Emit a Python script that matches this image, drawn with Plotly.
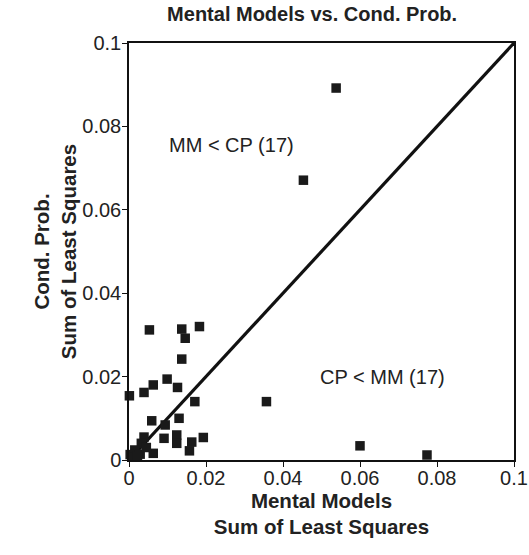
import plotly.graph_objects as go

mental_models = [0.0538, 0.0453, 0.0357, 0.0600, 0.0774, 0.0053, 0.0137, 0.0183,
                 0.0146, 0.0137, 0.0099, 0.0063, 0.0039, 0.0001, 0.0126, 0.0171,
                 0.0059, 0.0130, 0.0094, 0.0091, 0.0124, 0.0124, 0.0163, 0.0157,
                 0.0193, 0.0063, 0.0039, 0.0032, 0.0015, 0.0003, 0.0029, 0.0010,
                 0.0022, 0.0045]
cond_prob = [0.0892, 0.0671, 0.0140, 0.0034, 0.0012, 0.0312, 0.0314, 0.0320,
             0.0292, 0.0242, 0.0194, 0.0180, 0.0162, 0.0154, 0.0174, 0.0140,
             0.0094, 0.0100, 0.0084, 0.0052, 0.0060, 0.0040, 0.0043, 0.0022,
             0.0054, 0.0016, 0.0055, 0.0040, 0.0024, 0.0013, 0.0014, 0.0007,
             0.0009, 0.0030]
diag = [0, 0.1]
ticks = [0, 0.02, 0.04, 0.06, 0.08, 0.1]
tick_labels = ["0", "0.02", "0.04", "0.06", "0.08", "0.1"]

fig = go.Figure()
fig.add_trace(go.Scatter(x=diag, y=diag, mode="lines",
                         line=dict(color="#111111", width=3.2),
                         showlegend=False, hoverinfo="skip"))
fig.add_trace(go.Scatter(x=mental_models, y=cond_prob, mode="markers",
                         marker=dict(symbol="square", size=9.5, color="#1a1a1a"),
                         cliponaxis=False, showlegend=False))

font = "Liberation Sans, Arial, sans-serif"
axis_common = dict(range=[0, 0.1], tickvals=ticks, ticktext=tick_labels,
                   showgrid=False, zeroline=False, showline=True, mirror=True,
                   linecolor="#111111", linewidth=1.5, ticks="outside",
                   ticklen=5, tickcolor="#111111", automargin=False,
                   tickfont=dict(family=font, size=20, color="#222222"))

fig.update_xaxes(**axis_common, ticklabelstandoff=-6,
                 title=dict(text="<b>Mental Models<br>Sum of Least Squares</b>",
                            font=dict(family=font, size=20.5, color="#222222"),
                            standoff=0))
fig.update_yaxes(**axis_common, ticklabelstandoff=-3,
                 title=dict(text="<b>Cond. Prob.<br>Sum of Least Squares</b>",
                            font=dict(family=font, size=20.5, color="#222222"),
                            standoff=0))

fig.add_annotation(x=0.0099, y=0.0756, text="MM < CP (17)", showarrow=False,
                   xanchor="left", font=dict(family=font, size=20, color="#222222"))
fig.add_annotation(x=0.049, y=0.0198, text="CP < MM (17)", showarrow=False,
                   xanchor="left", font=dict(family=font, size=20, color="#222222"))

fig.update_layout(
    width=529, height=555,
    margin=dict(l=129, r=15, t=43, b=95),
    paper_bgcolor="white", plot_bgcolor="white",
    title=dict(text="<b>Mental Models vs. Cond. Prob.</b>", x=0.59, xanchor="center",
               y=0.974, yanchor="middle",
               font=dict(family=font, size=20, color="#222222")),
)

fig.write_html("out.html", config={"displayModeBar": False},
               post_script="document.body.style.margin='0px';")
